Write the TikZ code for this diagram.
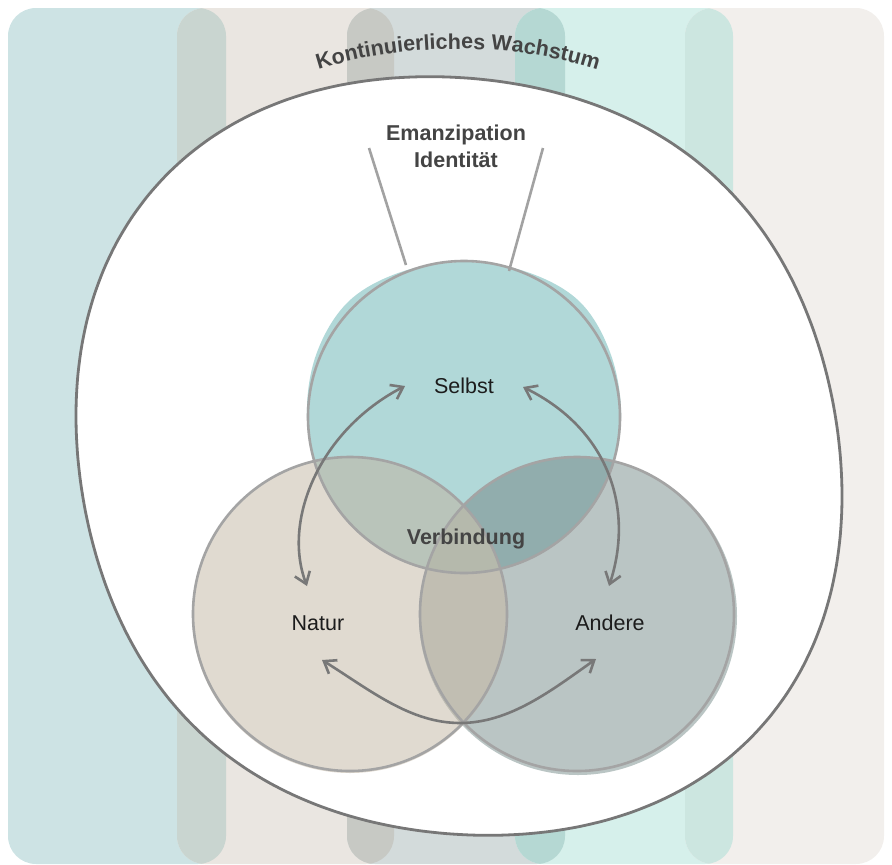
\documentclass[tikz,border=0pt]{standalone}
\usepackage{fontspec}
\setmainfont{Liberation Sans}
\usetikzlibrary{arrows.meta,decorations.text}

% background stripes and their overlaps
\definecolor{stripeA}{HTML}{CDE3E4}
\definecolor{stripeB}{HTML}{EAE6E1}
\definecolor{stripeC}{HTML}{D3DBDB}
\definecolor{stripeD}{HTML}{D6F0EB}
\definecolor{stripeE}{HTML}{F2EFEC}
\definecolor{joinAB}{HTML}{C9D5D0}
\definecolor{joinBC}{HTML}{C7C9C4}
\definecolor{joinCD}{HTML}{B5D8D3}
\definecolor{joinDE}{HTML}{CCE6E0}
% Venn regions
\definecolor{selbstfill}{HTML}{B1D8D8}
\definecolor{naturfill}{HTML}{E0DAD0}
\definecolor{anderefill}{HTML}{BAC5C4}
\definecolor{selbstnatur}{HTML}{B9C4BA}
\definecolor{selbstandere}{HTML}{91ADAD}
\definecolor{naturandere}{HTML}{C1BEB2}
\definecolor{allthree}{HTML}{B5B9AC}
% strokes and text
\definecolor{ringgray}{HTML}{777777}
\definecolor{rimgray}{HTML}{A4A4A4}
\definecolor{leadgray}{HTML}{A2A2A2}
\definecolor{arrowgray}{HTML}{787878}
\definecolor{ink}{HTML}{444444}
\definecolor{labelink}{HTML}{1C1C1C}

\tikzset{
  band/.style={rounded corners=28pt},
  ring/.style={draw=ringgray, line width=2.8pt, fill=white},
  rim/.style={draw=rimgray, line width=2.6pt},
  leader/.style={draw=leadgray, line width=2.6pt},
  twoway/.style={draw=arrowgray, line width=2.6pt,
    {Straight Barb[length=11pt,width=16pt]}-{Straight Barb[length=11pt,width=16pt]}},
  heading/.style={font=\fontsize{21.5}{27}\selectfont\bfseries, text=ink, align=center, inner sep=0pt},
  label/.style={font=\fontsize{21.5}{25}\selectfont, text=labelink, inner sep=0pt},
  selbstshape/.style={insert path={plot[smooth cycle, tension=0.6] coordinates {
    (464,262) (527,272) (580,302) (611,355) (621,418) (608,478) (574,528)
    (526,560) (464,573) (402,560) (354,528) (320,478) (307,418) (316,355)
    (348,302) (401,272)}}},
  naturshape/.style={insert path={(350,615) circle[radius=158pt]}},
  andereshape/.style={insert path={(578,616) circle[radius=159pt]}},
}

% radius of the outer ring: a circle drawn out a little along one diagonal
\pgfmathdeclarefunction{ringr}{1}{%
  \pgfmathparse{386+13.5*cos(2*(#1-42))+6.25*cos(4*(#1-42))}}

\begin{document}
\begin{tikzpicture}[x=1pt,y=-1pt]
\useasboundingbox (0,0) rectangle (892,865);

% stripes
\fill[stripeA, band] (8,8) rectangle (226,864);
\fill[stripeB, band] (177,8) rectangle (394,864);
\fill[stripeC, band] (347,8) rectangle (565,864);
\fill[stripeD, band] (515,8) rectangle (733,864);
\fill[stripeE, band] (685,8) rectangle (884,864);
\begin{scope}
  \clip[band] (8,8) rectangle (226,864);
  \fill[joinAB, band] (177,8) rectangle (394,864);
\end{scope}
\begin{scope}
  \clip[band] (177,8) rectangle (394,864);
  \fill[joinBC, band] (347,8) rectangle (565,864);
\end{scope}
\begin{scope}
  \clip[band] (347,8) rectangle (565,864);
  \fill[joinCD, band] (515,8) rectangle (733,864);
\end{scope}
\begin{scope}
  \clip[band] (515,8) rectangle (733,864);
  \fill[joinDE, band] (685,8) rectangle (884,864);
\end{scope}

% outer ring
\draw[ring] plot[variable=\t, domain=0:356, samples=90, smooth cycle]
  ({459+ringr(\t)*cos(\t)}, {456+ringr(\t)*sin(\t)});

% curved title above the ring
\path[decorate, decoration={text along path, text align=center,
  text={|\fontsize{21.5}{22}\selectfont\bfseries\color{ink}|Kontinuierliches Wachstum}}]
  (300,76) .. controls (395,40) and (521,40) .. (616,76);

% Venn fills
\fill[selbstfill, selbstshape];
\fill[naturfill, naturshape];
\fill[anderefill, andereshape];
\begin{scope}
  \clip[selbstshape];
  \fill[selbstnatur, naturshape];
\end{scope}
\begin{scope}
  \clip[selbstshape];
  \fill[selbstandere, andereshape];
\end{scope}
\begin{scope}
  \clip[naturshape];
  \fill[naturandere, andereshape];
\end{scope}
\begin{scope}
  \clip[selbstshape];
  \clip[naturshape];
  \fill[allthree, andereshape];
\end{scope}

% Venn outlines
\draw[rim] (464,417) circle[radius=156pt];
\draw[rim] (350,614) circle[radius=157pt];
\draw[rim] (577,614) circle[radius=157pt];

% labels
\node[heading] (emanz) at (456,146) {Emanzipation\\Identität};
\node[label] (selbst) at (464,386) {Selbst};
\node[heading] (verb) at (466,539) {Verbindung};
\node[label] (natur) at (318,623) {Natur};
\node[label] (andere) at (610,623) {Andere};

% leader lines from the heading to the top circle
\coordinate (leadLa) at (369,148);
\coordinate (leadLb) at (406,265);
\coordinate (leadRa) at (543,148);
\coordinate (leadRb) at (509,271);
\draw[leader] (leadLa) -- (leadLb);
\draw[leader] (leadRa) -- (leadRb);

% two-way arrows between the circles
\coordinate (sL) at (405,386);
\coordinate (nT) at (307,586);
\coordinate (sR) at (523,387);
\coordinate (aT) at (609,586);
\coordinate (nB) at (322,660);
\coordinate (bottom) at (460,723);
\coordinate (aB) at (596,659);
\draw[twoway] (sL) .. controls (320,430) and (282,520) .. (nT);
\draw[twoway] (sR) .. controls (610,430) and (634,510) .. (aT);
\draw[twoway] (nB) .. controls (370,690) and (410,723) .. (bottom)
  .. controls (510,723) and (552,690) .. (aB);
\end{tikzpicture}
\end{document}
